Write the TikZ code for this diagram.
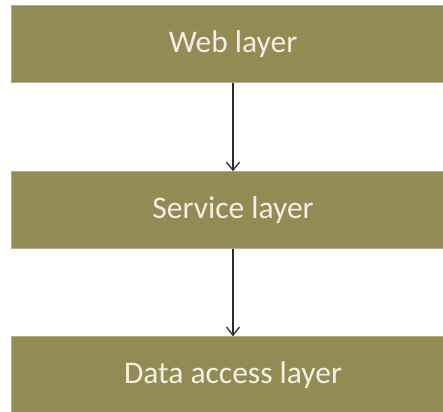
\documentclass[tikz,border=0pt]{standalone}
\usepackage{fontspec}
\setmainfont{Carlito}
\usetikzlibrary{arrows.meta}
\definecolor{olivebox}{HTML}{948A54}
\definecolor{boxtext}{HTML}{F2F0E6}
\definecolor{arrowcol}{HTML}{2A2A2A}
\tikzset{
  layerbox/.style={rectangle, fill=olivebox, draw=olivebox!70!white, line width=0.6pt,
    minimum width=444pt, minimum height=77pt, inner sep=0pt,
    text=boxtext, font=\fontsize{31.5}{36}\selectfont},
  flowarrow/.style={draw=arrowcol, line width=1.3pt, -{Straight Barb[length=8pt,width=13pt,line width=1.3pt]}}
}
\begin{document}
\begin{tikzpicture}[x=1pt,y=1pt]
\useasboundingbox (0,0) rectangle (443,411);
\node[layerbox] (web) at (233,367) {Web layer};
\node[layerbox] (service) at (233,201) {Service layer};
\node[layerbox] (data) at (233,36) {Data access layer};
\draw[flowarrow] (web.south) -- (service.north);
\draw[flowarrow] (service.south) -- (data.north);
\end{tikzpicture}
\end{document}
